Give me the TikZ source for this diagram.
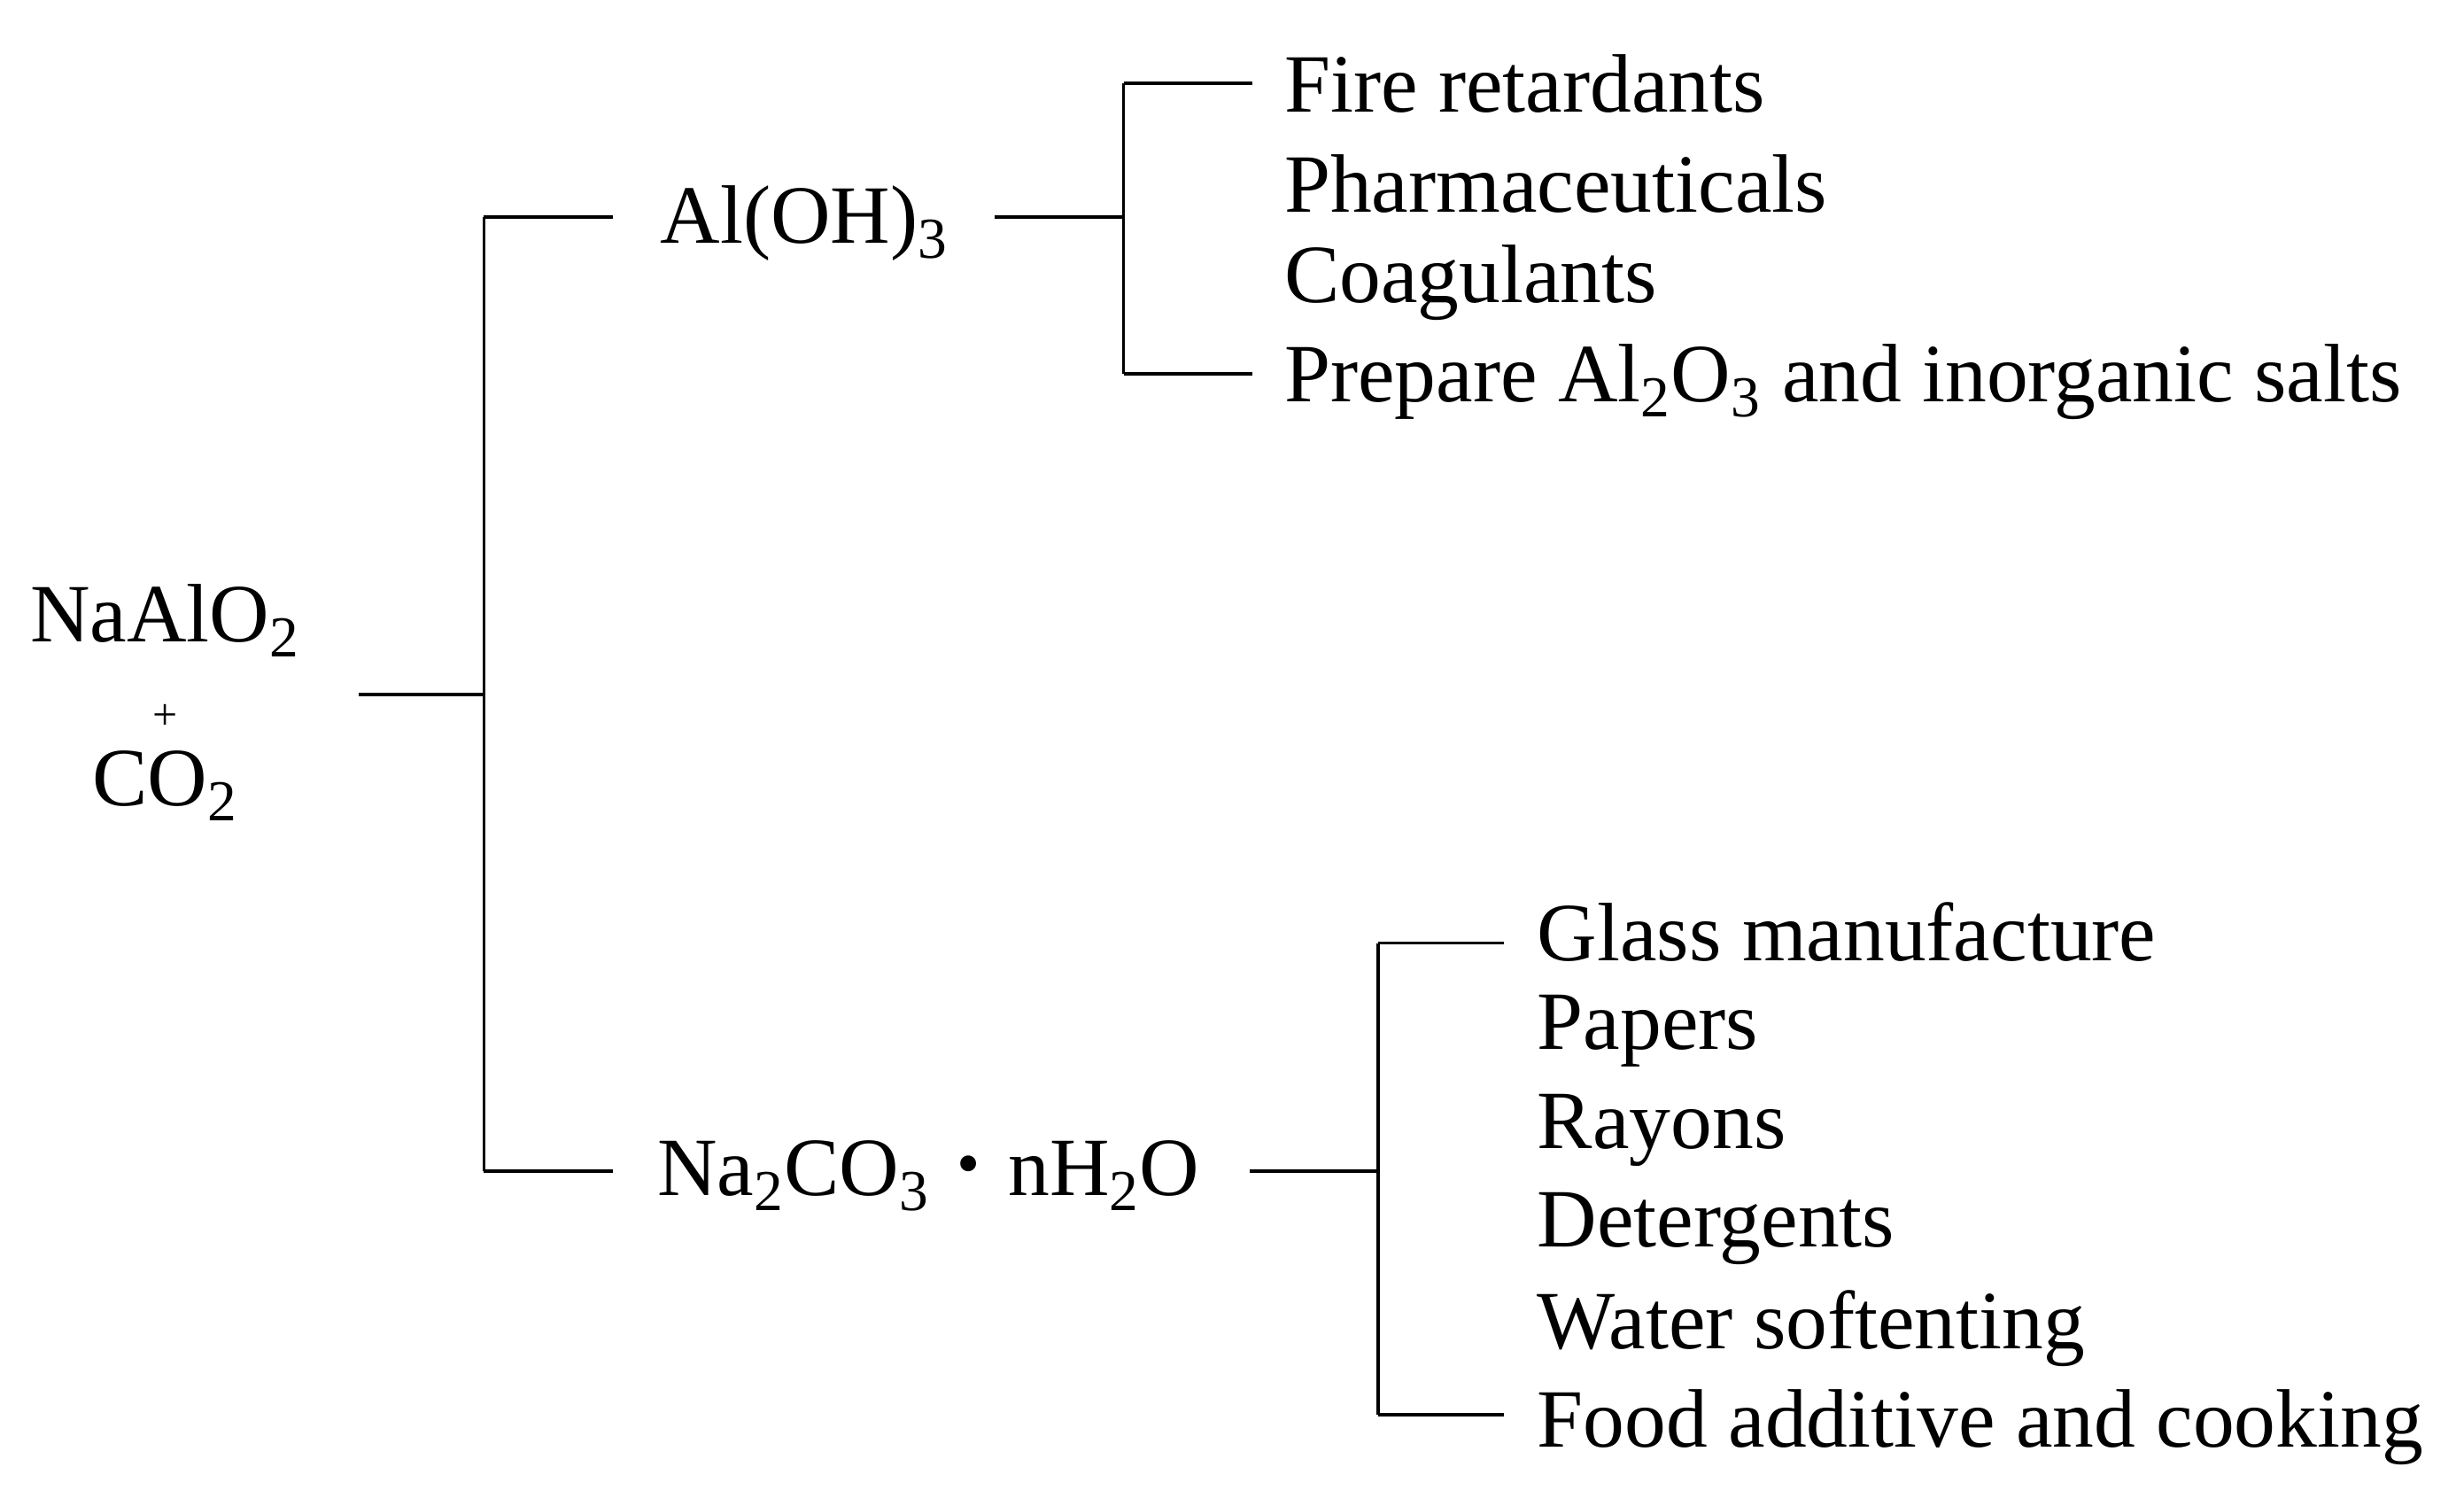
\documentclass[tikz,border=0pt]{standalone}
\usepackage{fontspec}
\setmainfont{Liberation Serif}
\usetikzlibrary{positioning}
\newcommand{\sub}[1]{\textsubscript{#1}}

\begin{document}
\begin{tikzpicture}[x=0.02cm, y=-0.02cm,
    every node/.style={font=\fontsize{30}{36}\selectfont, inner sep=0pt},
    item/.style={anchor=west},
    branch/.style={line width=1.2pt}]
    \useasboundingbox (0, 0) rectangle (1568, 953);

    % root
    \node (nalo) at (105, 395){NaAlO\sub{2}};
    \node[font=\fontsize{16}{18}\selectfont] (plus) at (105, 456){+};
    \node (co) at (105, 500){CO\sub{2}};

    \coordinate (root) at (228, 442);
    \coordinate (fork) at (308, 442);
    \coordinate (top) at (308, 138);
    \coordinate (bot) at (308, 745);
    \draw[branch] (root) -- (fork);
    \draw[branch] (top) -- (bot);

    % products
    \node[item] (aloh) at (420, 142){Al(OH)\sub{3}};
    \node[item] (soda) at (418, 748){Na\sub{2}CO\sub{3}\,\,\raisebox{0.25ex}{\scalebox{0.8}{\textbullet}}\,\,nH\sub{2}O};
    \draw[branch] (top) -- (390, 138);
    \draw[branch] (bot) -- (390, 745);

    % uses of Al(OH)3
    \coordinate (a0) at (715, 138);
    \draw[branch] (633, 138) -- (a0);
    \draw[branch] (715, 53) -- (715, 238);
    \draw[branch] (715, 53) -- (797, 53);
    \draw[branch] (715, 238) -- (797, 238);
    \node[item] (u1) at (817, 53){Fire retardants};
    \node[item] (u2) at (817, 117){Pharmaceuticals};
    \node[item] (u3) at (817, 180){Coagulants};
    \node[item] (u4) at (817, 243){Prepare Al\sub{2}O\sub{3} and inorganic salts};

    % uses of Na2CO3
    \coordinate (b0) at (877, 745);
    \draw[branch] (795, 745) -- (b0);
    \draw[branch] (877, 600) -- (877, 900);
    \draw[branch] (877, 600) -- (957, 600);
    \draw[branch] (877, 900) -- (957, 900);
    \foreach \txt [count=\i] in {Glass manufacture, Papers, Rayons, Detergents,
        Water softenting, Food additive and cooking}
        \node[item] (v\i) at (978, 530 + 63*\i){\txt};
\end{tikzpicture}
\end{document}
